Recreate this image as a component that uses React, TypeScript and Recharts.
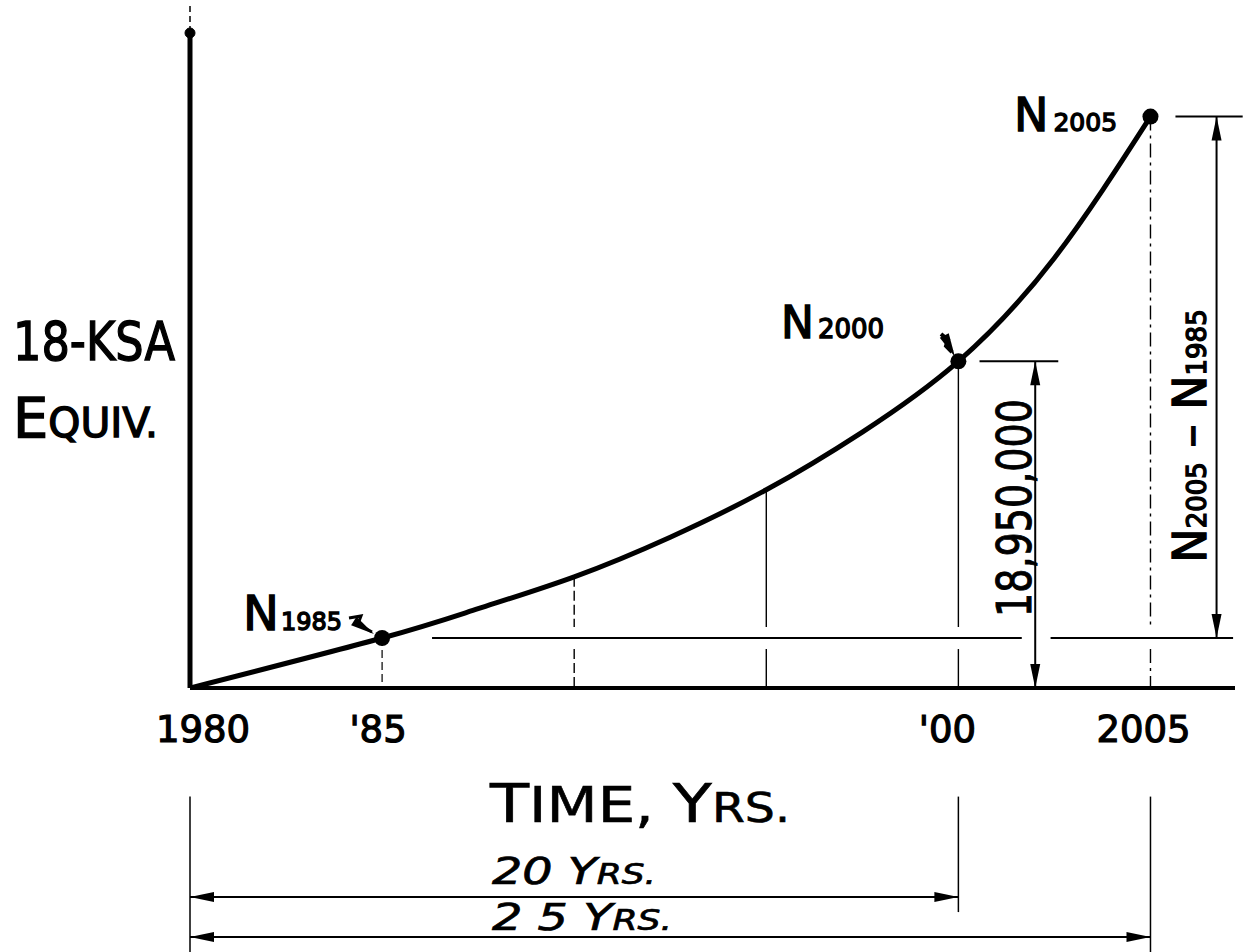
import {
  Customized,
  Line,
  LineChart,
  ReferenceDot,
  ReferenceLine,
  XAxis,
  YAxis,
} from "recharts";

// traffic growth
const years = [1980, 1985, 1987.5, 1990, 1992.5, 1995, 1997.5, 2000, 2002.5, 2005];
const esal = [0, 2900000, 4600000, 6450000, 8750000, 11500000, 14850000, 18950000, 24950000, 33150000];
const tickYears = [1980, 1985, 2000, 2005];
const tickLabels = ["1980", "'85", "'00", "2005"];
const markedYears = [1985, 2000, 2005];
const dropYears = [1990, 1995, 2000, 2005];

const data = years.map((year, i) => ({ year, esal: esal[i] }));
const valueAt = (year: number) => esal[years.indexOf(year)];

const N1985 = valueAt(1985);
const N2000 = valueAt(2000);
const N2005 = valueAt(2005);

const Y_MAX = 38000000;
const GAP = 640000; // break in drop lines where the N1985 leader crosses

// below-axis dimension levels (chart units)
const EXT_TOP = -6300000;
const EXT_BOTTOM = -15400000;
const EXT_2000_BOTTOM = -13000000;
const DIM_20 = -12120000;
const DIM_25 = -14450000;

const FONT = "'DejaVu Sans', sans-serif";

const tickDx: Record<string, number> = { "1980": 13, "'85": -4, "'00": -11, "2005": -7 };

function YearTick(props: any) {
  const { x, y, payload } = props;
  const label = tickLabels[tickYears.indexOf(payload.value)];
  return (
    <text
      x={x + (tickDx[label] ?? 0)}
      y={y + 46}
      textAnchor="middle"
      fontFamily={FONT}
      fontSize={37}
      stroke="#000"
      strokeWidth={1.2}
      fill="#000"
    >
      {label}
    </text>
  );
}

function arrowHead(x: number, y: number, dx: number, dy: number, key: string) {
  const len = Math.hypot(dx, dy) || 1;
  const ux = dx / len;
  const uy = dy / len;
  const L = 24;
  const W = 5;
  const bx = x - ux * L;
  const by = y - uy * L;
  return (
    <polygon
      key={key}
      points={`${x},${y} ${bx - uy * W},${by + ux * W} ${bx + uy * W},${by - ux * W}`}
      fill="#000"
    />
  );
}

function DimLine(props: any) {
  const { x1, y1, x2, y2 } = props;
  return (
    <g>
      <line x1={x1} y1={y1} x2={x2} y2={y2} stroke="#000" strokeWidth={2} />
      {arrowHead(x1, y1, x1 - x2, y1 - y2, "a")}
      {arrowHead(x2, y2, x2 - x1, y2 - y1, "b")}
    </g>
  );
}

function CurveDot(props: any) {
  const { cx, cy, payload } = props;
  if (!markedYears.includes(payload.year)) return <g key={payload.year} />;
  return <circle key={payload.year} cx={cx} cy={cy} r={8} fill="#000" />;
}

function Notes() {
  const t = { fontFamily: FONT, fill: "#000", stroke: "#000", strokeWidth: 1.4 };
  return (
    <g>
      <text x={13} y={360} fontSize={54} textLength={162} lengthAdjust="spacingAndGlyphs" {...t}>
        18-KSA
      </text>
      <text x={13} y={437} textLength={145} lengthAdjust="spacingAndGlyphs" {...t}>
        <tspan fontSize={56}>E</tspan>
        <tspan fontSize={41}>QUIV.</tspan>
      </text>
      <text x={490} y={822} textLength={300} lengthAdjust="spacingAndGlyphs" {...t} strokeWidth={0.6}>
        <tspan fontSize={54}>T</tspan>
        <tspan fontSize={50}>IME, </tspan>
        <tspan fontSize={54}>Y</tspan>
        <tspan fontSize={40}>RS.</tspan>
      </text>
      <text x={492} y={884} fontStyle="italic" textLength={164} lengthAdjust="spacingAndGlyphs" {...t} strokeWidth={0.7}>
        <tspan fontSize={37}>20 Y</tspan>
        <tspan fontSize={28}>RS.</tspan>
      </text>
      <text x={492} y={930} fontStyle="italic" textLength={180} lengthAdjust="spacingAndGlyphs" {...t} strokeWidth={0.7}>
        <tspan fontSize={37}>2 5 Y</tspan>
        <tspan fontSize={28}>RS.</tspan>
      </text>

      <text x={243} y={630} {...t}>
        <tspan fontSize={48}>N</tspan>
        <tspan fontSize={24} dx={2}>1985</tspan>
      </text>
      <text x={781} y={338} {...t}>
        <tspan fontSize={44}>N</tspan>
        <tspan fontSize={26} dx={4}>2000</tspan>
      </text>
      <text x={1014} y={131} {...t}>
        <tspan fontSize={46}>N</tspan>
        <tspan fontSize={25} dx={5}>2005</tspan>
      </text>

      <text
        transform="translate(1031,508) rotate(-90)"
        textAnchor="middle"
        fontSize={48}
        textLength={218}
        lengthAdjust="spacingAndGlyphs"
        {...t}
        strokeWidth={1}
      >
        18,950,000
      </text>
      <text transform="translate(1206,436) rotate(-90)" textAnchor="middle" {...t}>
        <tspan fontSize={46}>N</tspan>
        <tspan fontSize={26}>2005</tspan>
        <tspan fontSize={46}> – N</tspan>
        <tspan fontSize={26}>1985</tspan>
      </text>

      {/* little leader arrows to the points */}
      <path d="M349 618 L361 616 L358 624 L372 632" fill="none" stroke="#000" strokeWidth={3} />
      {arrowHead(374, 634, 14, 9, "n85")}
      <path d="M941 334 L948 340 L946 346 L952 352" fill="none" stroke="#000" strokeWidth={4} />
      {arrowHead(955, 357, 4, 8, "n00")}
      <line x1={190} y1={6} x2={190} y2={28} stroke="#000" strokeWidth={1.5} strokeDasharray="6 4" />
    </g>
  );
}

export default function App() {
  return (
    <div style={{ position: "absolute", left: 0, top: 0, background: "#fff" }}>
      <LineChart
        width={1243}
        height={952}
        data={data}
        margin={{ top: 33, right: 8, left: 190, bottom: 214 }}
      >
        <XAxis
          dataKey="year"
          type="number"
          domain={[1980, 2007.2]}
          allowDataOverflow
          ticks={tickYears}
          tickLine={false}
          axisLine={{ stroke: "#000", strokeWidth: 4 }}
          tick={<YearTick />}
          height={50}
        />
        <YAxis type="number" domain={[0, Y_MAX]} allowDataOverflow hide />
        <ReferenceLine x={1980} stroke="#000" strokeWidth={5} />
        <ReferenceDot x={1980} y={Y_MAX} r={5} fill="#000" stroke="#000" />

        {/* drop lines from the curve */}
        <ReferenceLine
          segment={[{ x: 1985, y: N1985 }, { x: 1985, y: 0 }]}
          stroke="#000"
          strokeWidth={1.2}
          strokeDasharray="8 4"
        />
        {dropYears.map((yr) => {
          const dash = yr === 1990 ? "10 4" : yr === 2005 ? "14 5 3 5" : undefined;
          return [
            <ReferenceLine
              key={`u${yr}`}
              segment={[{ x: yr, y: valueAt(yr) }, { x: yr, y: N1985 + GAP }]}
              stroke="#000"
              strokeWidth={1.4}
              strokeDasharray={dash}
            />,
            <ReferenceLine
              key={`l${yr}`}
              segment={[{ x: yr, y: N1985 - GAP }, { x: yr, y: 0 }]}
              stroke="#000"
              strokeWidth={1.4}
              strokeDasharray={dash}
            />,
          ];
        })}

        {/* N1985 leader, broken where the 18,950,000 dimension passes */}
        <ReferenceLine
          segment={[{ x: 1986.3, y: N1985 }, { x: 2001.65, y: N1985 }]}
          stroke="#000"
          strokeWidth={2}
        />
        <ReferenceLine
          segment={[{ x: 2002.4, y: N1985 }, { x: 2007.15, y: N1985 }]}
          stroke="#000"
          strokeWidth={2}
        />

        {/* 18,950,000 dimension */}
        <ReferenceLine
          segment={[{ x: 2000.55, y: N2000 }, { x: 2002.6, y: N2000 }]}
          stroke="#000"
          strokeWidth={2}
        />
        <ReferenceLine
          segment={[{ x: 2002.0, y: N2000 }, { x: 2002.0, y: 0 }]}
          shape={<DimLine />}
        />

        {/* N2005 - N1985 dimension */}
        <ReferenceLine
          segment={[{ x: 2005.65, y: N2005 }, { x: 2007.4, y: N2005 }]}
          stroke="#000"
          strokeWidth={2}
          ifOverflow="visible"
        />
        <ReferenceLine
          segment={[{ x: 2006.72, y: N2005 }, { x: 2006.72, y: N1985 }]}
          shape={<DimLine />}
        />

        {/* time spans under the axis */}
        {[1980, 2005].map((yr) => (
          <ReferenceLine
            key={`e${yr}`}
            segment={[{ x: yr, y: EXT_TOP }, { x: yr, y: EXT_BOTTOM }]}
            stroke="#000"
            strokeWidth={1.5}
            ifOverflow="visible"
          />
        ))}
        <ReferenceLine
          segment={[{ x: 2000, y: EXT_TOP }, { x: 2000, y: EXT_2000_BOTTOM }]}
          stroke="#000"
          strokeWidth={1.5}
          ifOverflow="visible"
        />
        <ReferenceLine
          segment={[{ x: 1980, y: DIM_20 }, { x: 2000, y: DIM_20 }]}
          shape={<DimLine />}
          ifOverflow="visible"
        />
        <ReferenceLine
          segment={[{ x: 1980, y: DIM_25 }, { x: 2005, y: DIM_25 }]}
          shape={<DimLine />}
          ifOverflow="visible"
        />

        <Line
          dataKey="esal"
          type="natural"
          stroke="#000"
          strokeWidth={5}
          dot={<CurveDot />}
          activeDot={false}
          isAnimationActive={false}
        />
        <Customized component={<Notes />} />
      </LineChart>
    </div>
  );
}
